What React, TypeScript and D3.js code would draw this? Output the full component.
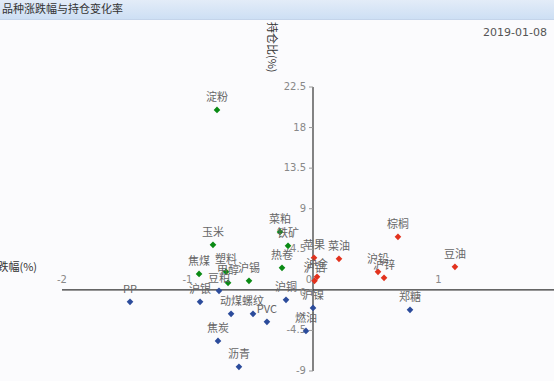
import React from "react";
import * as d3 from "d3";

const W = 554;
const H = 381;

const greenNames = ["淀粉", "玉米", "菜粕", "铁矿", "热卷", "焦煤", "塑料", "甲醇", "沪锡"];
const greenX = [-0.765, -0.797, -0.263, -0.199, -0.247, -0.908, -0.693, -0.677, -0.51];
const greenY = [19.96, 4.99, 6.43, 4.88, 2.44, 1.77, 2.0, 0.78, 1.0];

const blueNames = ["PP", "沪银", "豆粕", "动煤", "螺纹", "PVC", "沪铜", "焦炭", "沥青", "燃油", "沪镍", "郑糖"];
const blueX = [-1.458, -0.9, -0.749, -0.653, -0.478, -0.367, -0.215, -0.757, -0.59, -0.056, 0.0, 0.773];
const blueY = [-1.33, -1.33, -0.11, -2.66, -2.66, -3.55, -1.11, -5.66, -8.54, -4.55, -2.0, -2.22];

const redNames = ["苹果", "菜油", "棕榈", "豆油", "沪铅", "沪锌", "沪铝", "沪金"];
const redX = [0.008, 0.207, 0.677, 1.131, 0.518, 0.566, 0.012, 0.032];
const redY = [3.55, 3.44, 5.88, 2.55, 2.0, 1.33, 1.0, 1.44];

const xTicks = [-2, -1, 0, 1];
const yTicks = [22.5, 18, 13.5, 9, 4.5, 0, -4.5, -9];

const title = "品种涨跌幅与持仓变化率";
const dateText = "2019-01-08";
const xName = "涨跌幅(%)";
const yName = "持仓比(%)";

const x = d3.scaleLinear().domain([-2, 2]).range([62, 564]);
const y = d3.scaleLinear().domain([-9, 22.5]).range([371, 87]);

const groups = [
  { names: greenNames, xs: greenX, ys: greenY, color: "#0a8a14" },
  { names: blueNames, xs: blueX, ys: blueY, color: "#2b4b9b" },
  { names: redNames, xs: redX, ys: redY, color: "#e2321e" },
];

const diamond = d3.symbol().type(d3.symbolDiamond2).size(28)();

const cjk = "'Noto Sans CJK SC', 'Noto Sans', sans-serif";

export default function App() {
  const x0 = x(0);
  const y0 = y(0);
  return (
    <svg width={W} height={H} style={{ position: "absolute", left: 0, top: 0, display: "block" }}>
      <defs>
        <linearGradient id="tb" x1="0" y1="0" x2="0" y2="1">
          <stop offset="0" stopColor="#e3ecf8" />
          <stop offset="1" stopColor="#cddff4" />
        </linearGradient>
      </defs>
      <rect x={0} y={0} width={W} height={H} fill="#fbfbfd" />
      <rect x={0} y={0} width={W} height={19} fill="url(#tb)" />
      <line x1={0} x2={W} y1={19.5} y2={19.5} stroke="#c4d4ea" />
      <text x={2} y={13} fontSize={11} fill="#333" fontFamily={cjk}>{title}</text>
      <text x={547} y={36} fontSize={11} fill="#555" textAnchor="end" fontFamily="'DejaVu Sans', sans-serif">{dateText}</text>

      {/* axes */}
      <line x1={x(-2)} x2={W} y1={y0} y2={y0} stroke="#333" strokeWidth={1.2} />
      <line x1={x0} x2={x0} y1={y(22.5)} y2={y(-9)} stroke="#333" strokeWidth={1.2} />
      {yTicks.map((t) => (
        <g key={"y" + t}>
          <line x1={x0 - 4} x2={x0} y1={y(t)} y2={y(t)} stroke="#999" />
          <text x={x0 - 7} y={y(t) + (t === 0 ? 3 : 0)} fontSize={10} fill="#888" textAnchor="end" dominantBaseline="middle" fontFamily="'DejaVu Sans', sans-serif">{t}</text>
        </g>
      ))}
      {xTicks.map((t) => (
        <text key={"x" + t} x={t === 0 ? x0 - 4 : x(t)} y={y0 - 7} fontSize={10} fill="#888" textAnchor="middle" fontFamily="'DejaVu Sans', sans-serif">{t}</text>
      ))}
      <text x={37} y={271} fontSize={11} fill="#333" textAnchor="end" fontFamily={cjk}>{xName}</text>
      <text transform={`translate(268,22) rotate(90)`} fontSize={11} fill="#333" fontFamily={cjk}>{yName}</text>

      {groups.map((g, gi) => (
        <g key={gi}>
          {g.names.map((n, i) => (
            <g key={n}>
              <path d={diamond} transform={`translate(${x(g.xs[i])},${y(g.ys[i])})`} fill={g.color} />
              <text x={x(g.xs[i])} y={y(g.ys[i]) - 12} fontSize={11} fill="#666" textAnchor="middle" dominantBaseline="middle" fontFamily={cjk}>{n}</text>
            </g>
          ))}
        </g>
      ))}
    </svg>
  );
}
